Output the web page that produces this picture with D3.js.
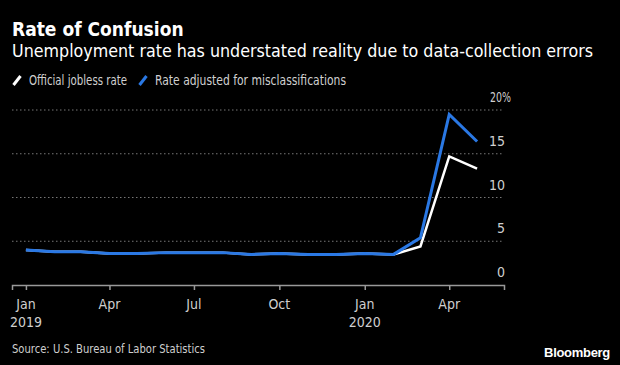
<!DOCTYPE html>
<html>
<head>
<meta charset="utf-8">
<script src="https://cdn.jsdelivr.net/npm/d3@7"></script>
<style>
  body { margin: 0; background: #000; }
  svg { display: block; font-family: "DejaVu Sans Condensed", "DejaVu Sans", sans-serif; }
</style>
</head>
<body>
<div class="chart"></div>
<script>
// monthly data, Jan 2019 - May 2020
var months = ["2019-01","2019-02","2019-03","2019-04","2019-05","2019-06","2019-07","2019-08","2019-09",
              "2019-10","2019-11","2019-12","2020-01","2020-02","2020-03","2020-04","2020-05"];
var official = [4.0,3.8,3.8,3.6,3.6,3.7,3.7,3.7,3.5,3.6,3.5,3.5,3.6,3.5,4.4,14.7,13.3];
var adjusted = [4.0,3.8,3.8,3.6,3.6,3.7,3.7,3.7,3.5,3.6,3.5,3.5,3.6,3.5,5.4,19.5,16.4];
var yTicks = [0,5,10,15,20];
var xTicks = ["2019-01","2019-04","2019-07","2019-10","2020-01","2020-04"];

var width = 620, height = 365;
var parse = d3.timeParse("%Y-%m");

var svg = d3.select(".chart").append("svg")
    .attr("width", width)
    .attr("height", height);

svg.append("rect").attr("width", width).attr("height", height).attr("fill", "#000");

// set the ranges
var x = d3.scaleTime()
    .domain([new Date(2018, 11, 17), new Date(2020, 4, 30)])
    .range([12, 504]);
var y = d3.scaleLinear().domain([0, 20]).range([285, 110]);

// titles
svg.append("text").text("Rate of Confusion")
    .attr("x", 12).attr("y", 36)
    .attr("fill", "#fff").attr("font-weight", "bold").attr("font-size", 19);
svg.append("text").text("Unemployment rate has understated reality due to data-collection errors")
    .attr("x", 12).attr("y", 57)
    .attr("fill", "#fff").attr("font-size", 17.7);

// legend
var legend = [["Official jobless rate", "#fff", 12, 98], ["Rate adjusted for misclassifications", "#2a78e4", 138, 191]];
legend.forEach(function(d){
    svg.append("line")
        .attr("x1", d[2] + 1.5).attr("y1", 85).attr("x2", d[2] + 8.5).attr("y2", 76)
        .attr("stroke", d[1]).attr("stroke-width", 3);
    svg.append("text").text(d[0])
        .attr("x", d[2] + 17).attr("y", 85)
        .attr("fill", "#d0d0d0").attr("font-size", 14)
        .attr("textLength", d[3]).attr("lengthAdjust", "spacingAndGlyphs");
});

// grid + y labels
svg.append("g").selectAll("line")
    .data(yTicks.filter(function(d){ return d > 0; }))
    .enter().append("line")
    .attr("x1", 12).attr("x2", 504)
    .attr("y1", function(d){ return y(d); }).attr("y2", function(d){ return y(d); })
    .attr("stroke", "#777").attr("stroke-width", 1).attr("stroke-dasharray", "1.5,2.5");

svg.append("g").selectAll("text")
    .data(yTicks)
    .enter().append("text")
    .text(function(d){ return d === 20 ? "20%" : d; })
    .attr("x", function(d){ return d === 20 ? 511 : 505; })
    .attr("y", function(d){ return y(d) - 8; })
    .attr("text-anchor", "end")
    .attr("fill", "#cfcfcf").attr("font-size", 14)
    .attr("textLength", function(d){ return d === 20 ? 21 : null; })
    .attr("lengthAdjust", "spacingAndGlyphs");

// x axis
var xAxis = d3.axisBottom(x)
    .tickValues(xTicks.map(parse))
    .tickSize(5)
    .tickFormat("");
var gx = svg.append("g")
    .attr("transform", "translate(0," + y(0) + ")")
    .call(xAxis);
gx.select(".domain").attr("stroke", "#999").attr("stroke-width", 1.5);
gx.selectAll(".tick line").attr("stroke", "#999").attr("stroke-width", 1.5);

var xl = svg.append("g").selectAll("text")
    .data(xTicks)
    .enter().append("text")
    .attr("x", function(d){ return x(parse(d)); })
    .attr("y", 309)
    .attr("text-anchor", "middle")
    .attr("fill", "#cfcfcf").attr("font-size", 14);
xl.append("tspan").text(function(d){ return d3.timeFormat("%b")(parse(d)); });
xl.filter(function(d){ return d.slice(5) === "01"; })
    .append("tspan")
    .attr("x", function(d){ return x(parse(d)); })
    .attr("dy", 18)
    .text(function(d){ return d.slice(0, 4); });

// lines
var valueline = function(vals){
    return d3.line()
        .x(function(d, i){ return x(parse(months[i])); })
        .y(function(d){ return y(d); })(vals);
};
svg.append("path").attr("d", valueline(official))
    .attr("fill", "none").attr("stroke", "#fff").attr("stroke-width", 2.5);
svg.append("path").attr("d", valueline(adjusted))
    .attr("fill", "none").attr("stroke", "#2a78e4").attr("stroke-width", 3);

// footer
svg.append("text").text("Source: U.S. Bureau of Labor Statistics")
    .attr("x", 12).attr("y", 353)
    .attr("fill", "#cfcfcf").attr("font-size", 13)
    .attr("textLength", 193).attr("lengthAdjust", "spacingAndGlyphs");
svg.append("text").text("Bloomberg")
    .attr("x", 610).attr("y", 357)
    .attr("text-anchor", "end")
    .attr("fill", "#fff").attr("font-weight", "bold").attr("font-size", 13)
    .attr("font-family", "Liberation Sans")
    .attr("letter-spacing", -0.3);
</script>
</body>
</html>
